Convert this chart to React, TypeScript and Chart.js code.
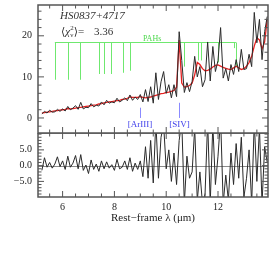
import React, { useEffect, useRef } from 'react';
import { Chart, registerables } from 'chart.js';
Chart.register(...registerables);

const lam = [5.2, 5.3, 5.4, 5.5, 5.6, 5.7, 5.8, 5.9, 6.0, 6.1, 6.2, 6.3, 6.4, 6.5, 6.6, 6.7, 6.8, 6.9, 7.0, 7.1, 7.2, 7.3, 7.4, 7.5, 7.6, 7.7, 7.8, 7.9, 8.0, 8.1, 8.2, 8.3, 8.4, 8.5, 8.6, 8.7, 8.8, 8.9, 9.0, 9.1, 9.2, 9.3, 9.4, 9.5, 9.6, 9.7, 9.8, 9.9, 10.0, 10.1, 10.2, 10.3, 10.4, 10.5, 10.6, 10.7, 10.8, 10.9, 11.0, 11.1, 11.2, 11.3, 11.4, 11.5, 11.6, 11.7, 11.8, 11.9, 12.0, 12.1, 12.2, 12.3, 12.4, 12.5, 12.6, 12.7, 12.8, 12.9, 13.0, 13.1, 13.2, 13.3, 13.4, 13.5, 13.6, 13.7, 13.8, 13.9];

const flux = [1.0, 1.6, 1.2, 1.9, 1.4, 1.5, 2.1, 1.6, 2.2, 1.7, 2.8, 2.0, 2.4, 3.0, 2.1, 3.8, 2.2, 2.6, 2.5, 3.5, 2.7, 3.1, 2.9, 3.9, 3.2, 4.3, 3.6, 3.9, 3.7, 4.8, 3.9, 4.3, 4.9, 4.2, 5.6, 4.3, 5.1, 4.5, 5.7, 3.9, 6.9, 4.0, 7.6, 3.6, 11.0, 4.5, 8.8, 11.3, 6.0, 8.1, 4.9, 8.1, 5.2, 21.0, 14.0, 6.2, 8.6, 6.4, 8.9, 15.0, 10.0, 12.5, 7.6, 9.3, 18.5, 9.0, 17.4, 11.3, 14.0, 22.0, 9.7, 12.0, 9.0, 13.0, 10.6, 14.2, 11.3, 16.7, 11.8, 12.0, 15.5, 12.5, 25.7, 18.3, 24.0, 14.2, 21.0, 24.7];

const model = [1.2, 1.3, 1.4, 1.5, 1.6, 1.7, 1.8, 1.9, 2.0, 2.1, 2.3, 2.2, 2.3, 2.4, 2.5, 2.6, 2.7, 2.8, 2.9, 3.0, 3.1, 3.2, 3.4, 3.5, 3.7, 3.8, 3.9, 4.0, 4.1, 4.2, 4.3, 4.5, 4.6, 4.8, 5.1, 5.0, 5.0, 5.0, 5.2, 5.0, 4.9, 5.0, 5.1, 5.3, 5.5, 5.7, 5.9, 6.0, 6.2, 6.3, 6.5, 6.7, 7.5, 19.0, 8.5, 7.5, 7.6, 7.9, 8.5, 10.5, 13.5, 13.0, 12.0, 11.5, 11.6, 11.9, 12.4, 12.8, 12.9, 12.6, 12.3, 12.1, 11.9, 11.8, 12.2, 12.6, 12.2, 11.8, 12.0, 12.6, 13.5, 15.0, 17.5, 19.5, 19.0, 16.8, 18.5, 24.0];

const resid = [-1.5, 2.5, -0.5, 1.0, -0.8, 0.5, 2.8, -0.3, 1.5, -1.2, 3.0, -0.5, 0.8, 3.2, -1.0, 3.5, -1.5, 0.2, -2.5, 1.8, -1.2, 0.5, -1.8, 1.5, -1.0, 1.2, -0.8, 0.3, -1.5, 2.0, -1.0, -0.5, 1.5, -1.2, 2.5, -1.8, 0.8, -1.2, 1.5, -3.5, 6.0, -4.0, 8.0, -5.5, 14.0, -4.0, 9.0, 13.0, -1.0, 5.0, -5.0, 4.0, -6.0, 8.0, 14.0, -12.0, 3.0, -4.0, -2.0, 12.0, -11.0, -2.0, -12.0, -9.0, 14.0, -12.0, 13.0, -6.0, 3.0, 15.0, -12.0, -3.0, -11.0, 4.0, -6.0, 7.0, -4.0, 9.0, -10.0, -4.0, 5.0, -12.0, 14.0, -5.0, 12.0, -12.0, 6.0, 1.0];

const pahLam = [5.70, 6.22, 6.69, 7.42, 7.60, 7.85, 8.33, 8.61, 10.68, 11.23, 11.33, 11.99, 12.62, 12.69];
const pahLow = [9.3, 9.3, 9.3, 10.7, 10.7, 10.7, 11.0, 11.5, 12.5, 14.0, 14.0, 13.5, 17.0, 12.5];
const pahTop = 18.5;
const pahLabel = 'PAHs';
const pahLabelLam = 9.1;

const lineLam = [8.99, 10.51];
const lineTop = [2.5, 3.7];
const lineLabels = ['[ArIII]', '[SIV]'];
const lineLabelY = -1.6;

const xTicks = [6, 8, 10, 12];
const xMinor = [5.5, 6.5, 7, 7.5, 8.5, 9, 9.5, 10.5, 11, 11.5, 12.5, 13, 13.5];
const yTicksTop = [0, 10, 20];
const yMinorTop = [-2, 2, 4, 6, 8, 12, 14, 16, 18, 22, 24, 26];
const yTicksBot = [-5, 0, 5];
const yMinorBot = [-9, -8, -7, -6, -4, -3, -2, -1, 1, 2, 3, 4, 6, 7, 8, 9, 10];

const objName = 'HS0837+4717';
const chiValue = '3.36';
const xTitle = 'Rest\u2212frame \u03bb (\u03bcm)';

const X_MIN = 5.05;
const X_MAX = 13.93;
const SERIF = '"Liberation Serif", "DejaVu Serif", serif';

function noPad(s: any) {
  s.paddingTop = 0; s.paddingBottom = 0; s.paddingLeft = 0; s.paddingRight = 0;
}

function drawFrame(chart: any, yMaj: number[], yMin: number[]) {
  const { ctx, chartArea: a, scales } = chart;
  const xs = scales.x;
  const ys = scales.y;
  ctx.save();
  ctx.strokeStyle = '#555';
  ctx.lineWidth = 1;
  ctx.beginPath();
  const xt = (vals: number[], len: number) => {
    for (const v of vals) {
      const p = xs.getPixelForValue(v);
      ctx.moveTo(p, a.bottom); ctx.lineTo(p, a.bottom - len);
      ctx.moveTo(p, a.top); ctx.lineTo(p, a.top + len);
    }
  };
  const yt = (vals: number[], len: number) => {
    for (const v of vals) {
      const p = ys.getPixelForValue(v);
      ctx.moveTo(a.left, p); ctx.lineTo(a.left + len, p);
      ctx.moveTo(a.right, p); ctx.lineTo(a.right - len, p);
    }
  };
  xt(xTicks, 6); xt(xMinor, 3.5);
  yt(yMaj, 6); yt(yMin, 3.5);
  ctx.stroke();
  ctx.lineWidth = 1.5;
  ctx.strokeRect(a.left, a.top, a.right - a.left, a.bottom - a.top);
  ctx.restore();
}

const topPlugin = {
  id: 'topDecor',
  beforeDatasetsDraw(chart: any) {
    const { ctx, scales } = chart;
    const xs = scales.x, ys = scales.y;
    ctx.save();
    ctx.strokeStyle = '#6fe86f';
    ctx.lineWidth = 1;
    ctx.beginPath();
    const yTop = Math.round(ys.getPixelForValue(pahTop)) + 0.5;
    ctx.moveTo(xs.getPixelForValue(pahLam[0]), yTop);
    ctx.lineTo(xs.getPixelForValue(pahLam[pahLam.length - 1]), yTop);
    pahLam.forEach((l, i) => {
      const p = Math.round(xs.getPixelForValue(l)) + 0.5;
      ctx.moveTo(p, yTop);
      ctx.lineTo(p, ys.getPixelForValue(pahLow[i]));
    });
    ctx.stroke();
    ctx.fillStyle = '#4cd84c';
    ctx.font = `8px ${SERIF}`;
    ctx.textBaseline = 'alphabetic';
    ctx.textAlign = 'left';
    ctx.fillText(pahLabel, xs.getPixelForValue(pahLabelLam), yTop - 1.5);

    ctx.strokeStyle = '#8a8aff';
    ctx.beginPath();
    lineLam.forEach((l, i) => {
      const p = Math.round(xs.getPixelForValue(l)) + 0.5;
      ctx.moveTo(p, ys.getPixelForValue(0));
      ctx.lineTo(p, ys.getPixelForValue(lineTop[i]));
    });
    ctx.stroke();
    ctx.fillStyle = '#3b3bea';
    ctx.font = `9px ${SERIF}`;
    ctx.textAlign = 'center';
    ctx.textBaseline = 'middle';
    lineLam.forEach((l, i) => {
      ctx.fillText(lineLabels[i], xs.getPixelForValue(l), ys.getPixelForValue(lineLabelY));
    });
    ctx.restore();
  },
  afterDatasetsDraw(chart: any) {
    const { ctx, chartArea: a } = chart;
    ctx.save();
    ctx.fillStyle = '#333';
    ctx.textBaseline = 'middle';
    ctx.textAlign = 'left';
    ctx.font = `italic 11px ${SERIF}`;
    ctx.fillText(objName, a.left + 22, 16);
    let x = a.left + 23;
    const y = 32;
    ctx.font = `11px ${SERIF}`;
    ctx.fillText('\u27e8', x, y); x += ctx.measureText('\u27e8').width;
    ctx.font = `italic 11px ${SERIF}`;
    ctx.fillText('\u03c7', x, y); x += ctx.measureText('\u03c7').width;
    ctx.font = `7px ${SERIF}`;
    ctx.fillText('2', x, y - 4);
    ctx.fillText('\u03bd', x, y + 3);
    x += ctx.measureText('\u03bd').width + 0.5;
    ctx.font = `11px ${SERIF}`;
    ctx.fillText('\u27e9=', x, y);
    ctx.fillText(chiValue, a.left + 56, y);
    ctx.restore();
    drawFrame(chart, yTicksTop, yMinorTop);
  },
};

const botPlugin = {
  id: 'botDecor',
  beforeDatasetsDraw(chart: any) {
    const { ctx, chartArea: a, scales } = chart;
    const p = Math.round(scales.y.getPixelForValue(0)) + 0.5;
    ctx.save();
    ctx.strokeStyle = '#8a8a8a';
    ctx.lineWidth = 1;
    ctx.beginPath();
    ctx.moveTo(a.left, p);
    ctx.lineTo(a.right, p);
    ctx.stroke();
    ctx.restore();
  },
  afterDatasetsDraw(chart: any) {
    drawFrame(chart, yTicksBot, yMinorBot);
  },
};

const fmtBot = (v: number) => (v < 0 ? '\u2212' : '') + Math.abs(v).toFixed(1);

export default function App() {
  const topRef = useRef<HTMLCanvasElement>(null);
  const botRef = useRef<HTMLCanvasElement>(null);

  useEffect(() => {
    const pts = (ys: number[]) => lam.map((x, i) => ({ x, y: ys[i] }));
    const tickFont = { family: SERIF, size: 10 };
    const top = new Chart(topRef.current!, {
      type: 'line',
      data: {
        datasets: [
          { data: pts(flux), borderColor: '#2a2a2a', borderWidth: 1, pointRadius: 0, tension: 0 },
          { data: pts(model), borderColor: '#e62020', borderWidth: 1.3, pointRadius: 0, tension: 0 },
        ],
      },
      options: {
        animation: false,
        responsive: false,
        maintainAspectRatio: false,
        layout: { autoPadding: false, padding: { top: 5, right: 6, left: 0, bottom: 1 } },
        plugins: { legend: { display: false }, tooltip: { enabled: false } },
        scales: {
          x: { type: 'linear', min: X_MIN, max: X_MAX, display: false },
          y: {
            type: 'linear',
            min: -3.66,
            max: 27.5,
            grid: { display: false, drawTicks: false },
            border: { display: false },
            afterFit: (s: any) => { s.width = 38; noPad(s); },
            afterBuildTicks: (s: any) => { s.ticks = yTicksTop.map((v) => ({ value: v })); },
            ticks: { padding: 6, font: tickFont, color: '#222' },
          },
        },
      },
      plugins: [topPlugin],
    } as any);

    const bot = new Chart(botRef.current!, {
      type: 'line',
      data: {
        datasets: [
          { data: pts(resid), borderColor: '#2a2a2a', borderWidth: 1, pointRadius: 0, tension: 0 },
        ],
      },
      options: {
        animation: false,
        responsive: false,
        maintainAspectRatio: false,
        layout: { autoPadding: false, padding: { top: 0, right: 6, left: 0, bottom: 0 } },
        plugins: { legend: { display: false }, tooltip: { enabled: false } },
        scales: {
          x: {
            type: 'linear',
            min: X_MIN,
            max: X_MAX,
            grid: { display: false, drawTicks: false },
            border: { display: false },
            afterFit: (s: any) => { s.height = 77; noPad(s); },
            afterBuildTicks: (s: any) => { s.ticks = xTicks.map((v) => ({ value: v })); },
            ticks: { padding: 4, font: tickFont, color: '#222', maxRotation: 0, autoSkip: false },
            title: {
              display: true,
              text: xTitle,
              font: { family: SERIF, size: 11 },
              color: '#222',
              padding: { top: 0, bottom: 49 },
            },
          },
          y: {
            type: 'linear',
            min: -9.95,
            max: 10.35,
            grid: { display: false, drawTicks: false },
            border: { display: false },
            afterFit: (s: any) => { s.width = 38; noPad(s); },
            afterBuildTicks: (s: any) => { s.ticks = yTicksBot.map((v) => ({ value: v })); },
            ticks: { padding: 6, font: tickFont, color: '#222', callback: (v: any) => fmtBot(Number(v)) },
          },
        },
      },
      plugins: [botPlugin],
    } as any);

    return () => { top.destroy(); bot.destroy(); };
  }, []);

  return (
    <div style={{ position: 'absolute', left: 0, top: 0, width: 274, height: 274, background: '#fff' }}>
      <canvas ref={topRef} width={274} height={134} style={{ position: 'absolute', left: 0, top: 0 }} />
      <canvas ref={botRef} width={274} height={141} style={{ position: 'absolute', left: 0, top: 133 }} />
    </div>
  );
}
